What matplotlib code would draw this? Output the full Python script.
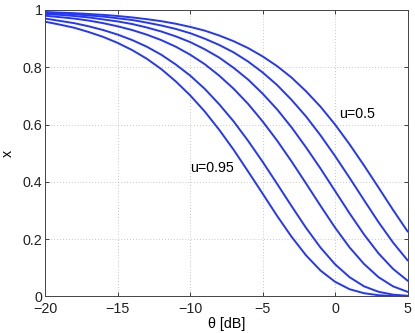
"""
x vs theta [dB] curves (u=0.5 ... u=0.95), MATLAB-style figure.
"""

import matplotlib
matplotlib.use("Agg")
import matplotlib.pyplot as plt
from matplotlib.ticker import FormatStrFormatter

# theta in dB, 1 dB steps
theta_db = [-20, -19, -18, -17, -16, -15, -14, -13, -12, -11, -10, -9, -8,
            -7, -6, -5, -4, -3, -2, -1, 0, 1, 2, 3, 4, 5]

# values, top curve (u=0.5) to bottom curve (u=0.95)
x_u050 = [0.993, 0.991, 0.989, 0.986, 0.983, 0.979, 0.974, 0.968, 0.961,
          0.952, 0.941, 0.928, 0.911, 0.891, 0.867, 0.838, 0.804, 0.764,
          0.716, 0.662, 0.600, 0.531, 0.457, 0.380, 0.302, 0.227]
x_u060 = [0.990, 0.988, 0.985, 0.981, 0.977, 0.971, 0.965, 0.956, 0.946,
          0.934, 0.919, 0.900, 0.878, 0.852, 0.820, 0.782, 0.738, 0.686,
          0.628, 0.562, 0.490, 0.414, 0.336, 0.259, 0.188, 0.126]
x_u070 = [0.986, 0.983, 0.979, 0.974, 0.967, 0.960, 0.951, 0.939, 0.925,
          0.908, 0.888, 0.863, 0.834, 0.798, 0.757, 0.708, 0.653, 0.590,
          0.520, 0.446, 0.368, 0.290, 0.216, 0.150, 0.096, 0.055]
x_u080 = [0.980, 0.975, 0.970, 0.963, 0.954, 0.943, 0.930, 0.914, 0.895,
          0.872, 0.844, 0.811, 0.771, 0.725, 0.672, 0.611, 0.544, 0.471,
          0.394, 0.316, 0.240, 0.171, 0.113, 0.067, 0.035, 0.016]
x_u090 = [0.970, 0.962, 0.954, 0.943, 0.930, 0.914, 0.895, 0.872, 0.844,
          0.810, 0.771, 0.725, 0.671, 0.611, 0.543, 0.470, 0.393, 0.315,
          0.239, 0.170, 0.112, 0.067, 0.035, 0.016, 0.006, 0.002]
x_u095 = [0.959, 0.949, 0.938, 0.923, 0.906, 0.885, 0.860, 0.830, 0.794,
          0.751, 0.702, 0.646, 0.582, 0.512, 0.436, 0.359, 0.281, 0.208,
          0.143, 0.090, 0.051, 0.025, 0.011, 0.004, 0.001, 0.000]

curves = [x_u050, x_u060, x_u070, x_u080, x_u090, x_u095]

# annotations
label_texts = ["u=0.5", "u=0.95"]
label_x = [0.3, -10.0]
label_y = [0.637, 0.448]


def plot_curves():
    plt.rcParams["font.family"] = ["Liberation Sans", "DejaVu Sans"]

    fig = plt.figure(figsize=(4.15, 3.33), dpi=100)
    ax = fig.add_axes([0.109, 0.110, 0.873, 0.860])

    for values in curves:
        ax.plot(theta_db, values, color="#2236ff", linewidth=1.4)

    for text, tx, ty in zip(label_texts, label_x, label_y):
        ax.text(tx, ty, text, ha="left", va="center", fontsize=10.3)

    ax.set_xlim(-20, 5)
    ax.set_ylim(0, 1)
    ax.set_xticks([-20, -15, -10, -5, 0, 5])
    ax.set_yticks([0, 0.2, 0.4, 0.6, 0.8, 1])
    ax.yaxis.set_major_formatter(FormatStrFormatter("%g"))

    # MATLAB-ish look: inward ticks on all sides, dotted grid
    ax.tick_params(direction="in", length=3, width=0.6, top=True, right=True,
                   labelsize=10.3, colors="#222222")
    ax.tick_params(axis="x", pad=4)
    ax.tick_params(axis="y", pad=2)
    for spine in ax.spines.values():
        spine.set_color("#444444")
        spine.set_linewidth(0.7)
    ax.grid(True, linestyle=(0, (1, 2.5)), color="#b4b4b4", linewidth=0.6)

    ax.set_xlabel("θ [dB]", fontsize=10.3, labelpad=1)
    ax.set_ylabel("x", fontsize=10.3, labelpad=6)

    fig.savefig("out.png", dpi=100)


if __name__ == "__main__":
    plot_curves()
